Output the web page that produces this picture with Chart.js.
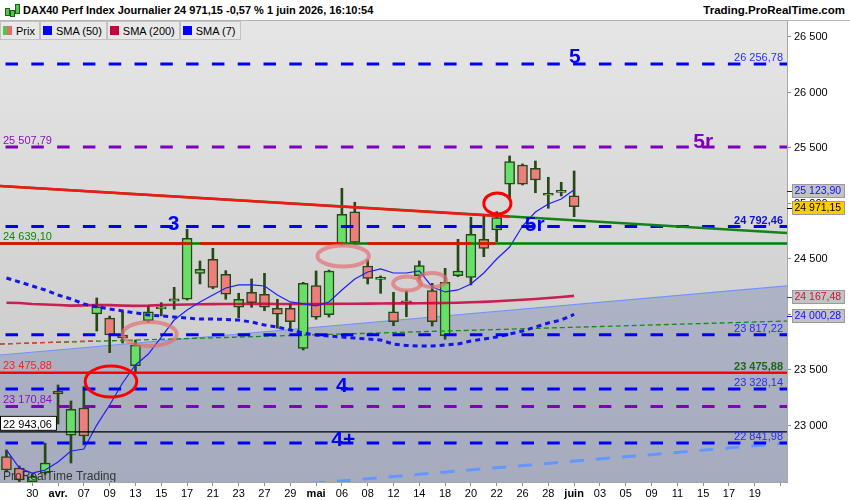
<!DOCTYPE html>
<html lang="fr">
<head>
<meta charset="UTF-8">
<title>DAX40 Perf Index Journalier</title>
<script src="https://cdn.jsdelivr.net/npm/chart.js@4.4.1/dist/chart.umd.min.js"></script>
<style>
  html, body { margin: 0; padding: 0; background: #fff; }
  #wrap { position: relative; width: 850px; height: 500px; overflow: hidden; font-family: 'Liberation Sans', Arial, sans-serif; }
  #chart { position: absolute; left: 0; top: 0; }
  .top { position: absolute; left: 0; top: 0; width: 850px; height: 20px; background: #fff; border-bottom: 1px solid #b4b4b4; }
  .top .name { position: absolute; left: 23px; top: 4px; font-weight: bold; font-size: 11px; white-space: nowrap; }
  .top .site { position: absolute; right: 5px; top: 4px; font-weight: bold; font-size: 11.5px; white-space: nowrap; }
  .icon { position: absolute; left: 4px; top: 3px; width: 15px; height: 15px; }
  .icon i { position: absolute; width: 3px; background: #4cc94c; border: 1px solid #2a5a18; }
  .legend { position: absolute; left: 0; top: 21px; height: 19px; display: flex; }
  .btn { box-sizing: border-box; height: 19px; border: 1px solid #c2c2c2; background: #e8e8e8; font-size: 11px; display: flex; align-items: center; padding: 0 4px 0 2px; white-space: nowrap; }
  .sw { width: 9px; height: 9px; margin-right: 4px; }
</style>
</head>
<body>
<div id="wrap">
  <canvas id="chart" width="850" height="500"></canvas>
  <div class="top">
    <div class="icon"><i style="left:1px;top:5px;height:6px"></i><i style="left:6px;top:7px;height:5px"></i><i style="left:11px;top:1px;height:8px"></i></div>
    <div class="name">DAX40 Perf Index Journalier 24 971,15 -0,57 % 1 juin 2026, 16:10:54</div>
    <div class="site">Trading.ProRealTime.com</div>
  </div>
  <div class="legend">
    <div class="btn"><span class="sw" style="background:linear-gradient(90deg,#4cc94c 50%,#e86b6b 50%)"></span>Prix</div>
    <div class="btn"><span class="sw" style="background:#0000ff"></span>SMA (50)</div>
    <div class="btn"><span class="sw" style="background:#c8003c"></span>SMA (200)</div>
    <div class="btn"><span class="sw" style="background:#0000ff"></span>SMA (7)</div>
  </div>
</div>

<script>
// trading days (index 0 = 26 mars), last candle = 1 juin (index 44)
const dates = ['26','27','30','31','avr.','02','07','08','09','10','13','14','15','16','17','20','21','22','23','24',
  '27','28','29','30','mai','05','06','07','08','11','12','13','14','15','18','19','20','21','22','25',
  '26','27','28','29','juin','02','03','04','05','08','09','10','11','12','15','16','17','18','19','22','23'];
const xTicks = [2,4,6,8,10,12,14,16,18,20,22,24,26,28,30,32,34,36,38,40,42,44,46,48,50,52,54,56,58,60];
const monthTicks = [4, 24, 44];
const yTicks = [23000, 23500, 24000, 24500, 25000, 25500, 26000, 26500];

const opens  = [22719,22617,22494,22572,23311,22914,23158,24005,23968,23815,23539,23944,24050,24119,24137,24371,24497,24362,24065,24200,
  24182,24056,24056,23695,24260,23999,24632,24926,24437,24317,24025,24106,24350,24215,23809,24350,24335,24677,24761,25173,
  25347,25317,25074,25100,25070];
const highs  = [22779,22635,22563,22842,23365,23221,23350,24149,23986,24032,23770,24077,24106,24245,24768,24482,24596,24395,24191,24320,
  24371,24137,24095,24290,24392,24400,25137,25011,24491,24347,24200,24212,24482,24281,24416,24677,24876,24887,24926,25428,
  25356,25383,25236,25191,25293];
const lows   = [22581,22495,22492,22560,23014,22662,22824,23851,23656,23743,23473,23932,23987,24047,24130,24275,24232,24137,23971,24065,
  24034,23876,23860,23680,23957,23977,24626,24635,24275,24191,23899,23980,24311,23896,23777,24341,24266,24521,24656,25047,
  25167,25097,24957,25068,24881];
const closes = [22599,22509,22539,22662,23284,23146,22905,24068,23815,23788,23725,24025,24062,24140,24686,24407,24245,24182,24137,24106,
  24065,24002,23935,24281,23975,24392,24903,24650,24326,24332,23935,24114,24440,23935,24290,24392,24723,24596,24872,25377,
  25173,25212,25092,25108,24971.15];

const sma50  = [24329,24293,24257,24221,24176,24140,24095,24068,24050,24032,24014,23996,23987,23977,23968,23959,23959,23955,23950,23932,
  23905,23887,23860,23833,23815,23806,23797,23788,23779,23770,23734,23721,23716,23716,23725,23734,23761,23779,23797,23824,
  23851,23887,23923,23950,24000.28];
const sma200 = [24106,24104,24095,24090,24085,24080,24082,24086,24084,24080,24078,24080,24085,24088,24090,24092,24093,24094,24095,24096,
  24096,24095,24094,24094,24095,24096,24097,24097,24098,24099,24100,24100,24101,24102,24104,24106,24110,24114,24120,24126,
  24133,24140,24148,24157,24167.48];
const sma7   = [22780,22617,22572,22599,22671,22770,22788,23004,23185,23383,23545,23644,23797,23950,24041,24113,24176,24239,24266,24266,
  24257,24176,24113,24095,24077,24113,24221,24320,24383,24410,24374,24374,24392,24248,24203,24221,24275,24374,24500,24608,
  24797,24923,24995,25041,25123.90];

// horizontal levels
const blueLevels   = [26256.78, 24792.46, 23817.22, 23328.14, 22841.98];
const purpleLevels = [25507.79, 23170.84];
const supportLevel = 24639.10;
const redLevel     = 23475.88;
const blackLevel   = 22943.06;

// drawn trendlines: [index, value] pairs
const resistanceLine = [[-0.5, 25158], [60.5, 24734]];
const resistanceRed  = [[-0.5, 25158], [39, 24880]];
const channelTop     = [[-0.5, 23635], [60.5, 24257]];
const channelBottom  = [[-0.5, 22239], [60.5, 22842]];
const thinLine       = [[-0.5, 23734], [60.5, 23941]];
const thinLineRed    = [[-0.5, 23734], [7, 23764]];

const X_MIN = -0.5, X_MAX = 60.5;
const BLUE = '#0000ff', PURPLE = '#8000c0', OUTLINE = 'rgb(38,72,22)';
const FONT = "'Liberation Sans', Arial, sans-serif";

function fmt(v) {
  const p = v.toFixed(2).split('.');
  return p[0].replace(/\B(?=(\d{3})+(?!\d))/g, ' ') + ',' + p[1];
}
const pts = arr => arr.map(p => ({ x: p[0], y: p[1] }));
const flat = v => [{ x: X_MIN, y: v }, { x: X_MAX, y: v }];

function levelSet(v, color, width, dash) {
  return { type: 'line', data: flat(v), borderColor: color, borderWidth: width, borderDash: dash || [],
    borderDashOffset: dash ? 20.3 : 0, pointRadius: 0, order: 20 };
}

const datasets = [
  { type: 'line', data: pts(channelTop), borderColor: 'rgb(110,150,250)', borderWidth: 1.2, pointRadius: 0, order: 100,
    fill: 'start',
    backgroundColor: c => {
      const a = c.chart.chartArea;
      if (!a) return 'rgb(172,179,197)';
      const g = c.chart.ctx.createLinearGradient(0, a.top, 0, a.bottom);
      g.addColorStop(0, 'rgb(184,190,208)');
      g.addColorStop(1, 'rgb(166,172,190)');
      return g;
    } },
  { type: 'bar', data: highs.map((h, i) => ({ x: i, y: [lows[i], h] })), backgroundColor: OUTLINE,
    barThickness: 2, grouped: false, order: 60 },
  { type: 'bar', data: opens.map((o, i) => ({ x: i, y: [o, closes[i]] })),
    backgroundColor: closes.map((c, i) => c >= opens[i] ? 'rgb(106,222,106)' : 'rgb(238,126,126)'),
    borderColor: OUTLINE, borderWidth: 1.5, borderSkipped: false, minBarLength: 2,
    barThickness: 10, grouped: false, order: 50 },
  { type: 'line', data: pts(channelBottom), borderColor: 'rgb(100,150,255)', borderWidth: 3, borderDash: [14, 12],
    pointRadius: 0, clip: 0, order: 40 },
  { type: 'line', data: pts(thinLine), borderColor: 'rgb(20,140,20)', borderWidth: 1.3, borderDash: [5, 3], pointRadius: 0, order: 39 },
  { type: 'line', data: pts(thinLineRed), borderColor: 'rgb(235,60,60)', borderWidth: 1.3, borderDash: [5, 3], pointRadius: 0, order: 38 },
  { type: 'line', data: sma200.map((v, i) => ({ x: i, y: v })), borderColor: 'rgba(200,0,60,0.85)', borderWidth: 2.6, pointRadius: 0, order: 30 },
  { type: 'line', data: sma50.map((v, i) => ({ x: i, y: v })), borderColor: 'rgb(20,20,235)', borderWidth: 3, borderDash: [5, 4], pointRadius: 0, order: 29 },
  { type: 'line', data: sma7.map((v, i) => ({ x: i, y: v })), borderColor: 'rgb(30,30,255)', borderWidth: 1.2, pointRadius: 0, order: 28 },
  ...blueLevels.map(v => levelSet(v, BLUE, 3, [12.5, 13.3])),
  ...purpleLevels.map(v => levelSet(v, PURPLE, 3, [12.5, 13.3])),
  levelSet(supportLevel, 'rgb(0,128,0)', 2.5),
  { type: 'line', data: [{ x: X_MIN, y: supportLevel }, { x: 14.3, y: supportLevel }, { x: 14.6, y: null },
      { x: 15.0, y: supportLevel }, { x: 26.1, y: supportLevel }, { x: 27, y: null }, { x: 28.0, y: supportLevel },
      { x: 36.0, y: supportLevel }, { x: 36.3, y: null }, { x: 36.6, y: supportLevel }, { x: 37.9, y: supportLevel }],
    borderColor: 'rgb(255,0,0)', borderWidth: 2.5, pointRadius: 0, spanGaps: false, order: 19 },
  levelSet(redLevel, 'rgb(255,0,0)', 2.5),
  levelSet(blackLevel, '#000', 1.3),
  { type: 'line', data: pts(resistanceLine), borderColor: 'rgb(20,130,20)', borderWidth: 2.5, pointRadius: 0, order: 10 },
  { type: 'line', data: pts(resistanceRed), borderColor: 'rgb(250,20,20)', borderWidth: 2.6, pointRadius: 0, order: 9 }
];

// annotations (index / value units)
const ellipses = [
  { x: 8.1, y: 23396, rx: 2.0, ry: 140, color: 'rgb(255,0,0)', w: 3 },
  { x: 38.05, y: 25000, rx: 1.05, ry: 95, color: 'rgb(255,0,0)', w: 3 },
  { x: 11.1, y: 23824, rx: 2.1, ry: 108, color: 'rgba(226,112,112,0.7)', w: 4 },
  { x: 26.1, y: 24527, rx: 2.0, ry: 95, color: 'rgba(226,112,112,0.7)', w: 4 },
  { x: 31.05, y: 24279, rx: 1.08, ry: 63, color: 'rgba(226,112,112,0.7)', w: 4 },
  { x: 33.0, y: 24311, rx: 1.08, ry: 63, color: 'rgba(226,112,112,0.7)', w: 4 }
];
const waves = [
  { t: '5', x: 44.05, y: blueLevels[0], dy: -7, color: BLUE },
  { t: '5r', x: 54.0, y: purpleLevels[0], dy: -5, color: PURPLE },
  { t: '3', x: 12.95, y: blueLevels[1], dy: -2, color: BLUE },
  { t: '5r', x: 40.95, y: blueLevels[1], dy: -1, color: BLUE },
  { t: '4', x: 26.0, y: blueLevels[3], dy: -3, color: BLUE },
  { t: '4+', x: 26.1, y: blueLevels[4], dy: -2.5, color: BLUE }
];
const levelTags = [
  { v: blueLevels[0], side: 'right', color: '#2a2aff' },
  { v: purpleLevels[0], side: 'left', color: '#8a10c0' },
  { v: blueLevels[1], side: 'right', color: '#1010d8', bold: true },
  { v: supportLevel, side: 'left', color: '#0a8a0a' },
  { v: blueLevels[2], side: 'right', color: '#2a2aff' },
  { v: redLevel, side: 'left', color: '#ff2020' },
  { v: redLevel, side: 'right', color: '#1a6a10', bold: true },
  { v: blueLevels[3], side: 'right', color: '#2a2aff' },
  { v: purpleLevels[1], side: 'left', color: '#8a10c0' },
  { v: blackLevel, side: 'left', color: '#000', box: true },
  { v: blueLevels[4], side: 'right', color: '#2a2aff' }
];
const axisTags = [
  { v: sma7[sma7.length - 1], fg: '#1010ff', bg: '#c3c3c3' },
  { v: closes[closes.length - 1], fg: '#000', bg: '#ffcc00' },
  { v: sma200[sma200.length - 1], fg: '#d0103c', bg: '#c3c3c3' },
  { v: sma50[sma50.length - 1], fg: '#1010ff', bg: '#c3c3c3' }
];

const overlay = {
  id: 'overlay',
  beforeDraw(chart) {
    const { ctx, chartArea: a } = chart;
    ctx.save();
    ctx.fillStyle = '#fff';
    ctx.fillRect(0, 0, chart.width, chart.height);
    const g = ctx.createLinearGradient(0, a.top, 0, a.bottom);
    g.addColorStop(0, '#e6e6e6');
    g.addColorStop(1, '#c4c4c4');
    ctx.fillStyle = g;
    ctx.fillRect(a.left, a.top, a.width, a.height);
    ctx.restore();
  },
  afterDatasetsDraw(chart) {
    const { ctx, chartArea: a, scales: { x, y } } = chart;
    ctx.save();
    ctx.beginPath();
    ctx.rect(a.left, a.top, a.width, a.height);
    ctx.clip();
    ellipses.forEach(e => {
      const cx = x.getPixelForValue(e.x), cy = y.getPixelForValue(e.y);
      const rx = x.getPixelForValue(e.x + e.rx) - cx, ry = cy - y.getPixelForValue(e.y + e.ry);
      ctx.beginPath();
      ctx.ellipse(cx, cy, rx, ry, 0, 0, Math.PI * 2);
      ctx.strokeStyle = e.color;
      ctx.lineWidth = e.w;
      ctx.stroke();
    });
    levelTags.forEach(t => {
      const py = y.getPixelForValue(t.v);
      const txt = fmt(t.v);
      ctx.font = (t.bold ? 'bold ' : '') + '11px ' + FONT;
      ctx.textBaseline = 'alphabetic';
      if (t.box) {
        const w = ctx.measureText(txt).width;
        ctx.fillStyle = '#fff';
        ctx.fillRect(a.left, py - 16, w + 8, 15);
        ctx.strokeStyle = '#000';
        ctx.lineWidth = 1;
        ctx.strokeRect(a.left + 0.5, py - 15.5, w + 7, 14);
      }
      ctx.fillStyle = t.color;
      if (t.side === 'left') {
        ctx.textAlign = 'left';
        ctx.fillText(txt, a.left + 3, py - (t.box ? 4 : 3.5));
      } else {
        ctx.textAlign = 'right';
        ctx.fillText(txt, a.right - 4, py - 3);
      }
    });
    ctx.font = 'bold 21px ' + FONT;
    ctx.textAlign = 'center';
    ctx.textBaseline = 'middle';
    waves.forEach(w => {
      ctx.fillStyle = w.color;
      ctx.fillText(w.t, x.getPixelForValue(w.x), y.getPixelForValue(w.y) + w.dy);
    });
    ctx.font = '12px ' + FONT;
    ctx.textAlign = 'left';
    ctx.textBaseline = 'alphabetic';
    ctx.fillStyle = 'rgba(40,40,40,0.9)';
    ctx.fillText('ProRealTime Trading', a.left + 3, a.bottom - 2);
    ctx.restore();
  },
  afterDraw(chart) {
    const { ctx, chartArea: a, scales: { y } } = chart;
    ctx.save();
    ctx.font = '10.5px ' + FONT;
    ctx.textBaseline = 'middle';
    ctx.textAlign = 'left';
    axisTags.forEach(t => {
      const py = Math.round(y.getPixelForValue(t.v) + 1.5);
      ctx.fillStyle = t.bg;
      ctx.fillRect(a.right + 5, py - 7, 53, 14);
      ctx.strokeStyle = '#9a9a9a';
      ctx.lineWidth = 1;
      ctx.strokeRect(a.right + 5.5, py - 6.5, 52, 13);
      ctx.strokeStyle = t.fg;
      ctx.beginPath();
      ctx.moveTo(a.right, py + 0.5);
      ctx.lineTo(a.right + 5, py + 0.5);
      ctx.stroke();
      ctx.fillStyle = t.fg;
      ctx.fillText(fmt(t.v), a.right + 7.5, py + 0.5);
    });
    ctx.restore();
  }
};

new Chart(document.getElementById('chart'), {
  type: 'bar',
  data: { datasets },
  options: {
    responsive: false,
    animation: false,
    layout: { padding: { top: 21, left: 0, right: 0, bottom: 0 } },
    plugins: { legend: { display: false }, tooltip: { enabled: false } },
    scales: {
      x: {
        type: 'linear', min: X_MIN, max: X_MAX, offset: false,
        afterBuildTicks: s => { s.ticks = xTicks.map(v => ({ value: v })); },
        afterFit: s => { s.height = 18; },
        ticks: {
          autoSkip: false, maxRotation: 0, padding: 1, color: '#000',
          font: c => ({ family: FONT, size: 11, weight: c.tick && monthTicks.includes(c.tick.value) ? 'bold' : 'normal' }),
          callback: v => v === 60 ? '' : dates[v]
        },
        grid: { offset: false, drawOnChartArea: false, drawTicks: true, tickLength: 4, color: '#8c8c8c' },
        border: { display: true, color: '#a8a8a8' }
      },
      y: {
        type: 'linear', position: 'right', min: 22491, max: 26644,
        afterBuildTicks: s => { s.ticks = yTicks.map(v => ({ value: v })); },
        afterFit: s => { s.width = 63; },
        ticks: {
          padding: 3, color: '#000', font: { family: FONT, size: 11 },
          callback: v => String(v).replace(/\B(?=(\d{3})+(?!\d))/g, ' ')
        },
        grid: { drawOnChartArea: false, drawTicks: true, tickLength: 4, color: '#8c8c8c' },
        border: { display: true, color: '#a8a8a8' }
      }
    }
  },
  plugins: [overlay]
});
</script>
</body>
</html>
